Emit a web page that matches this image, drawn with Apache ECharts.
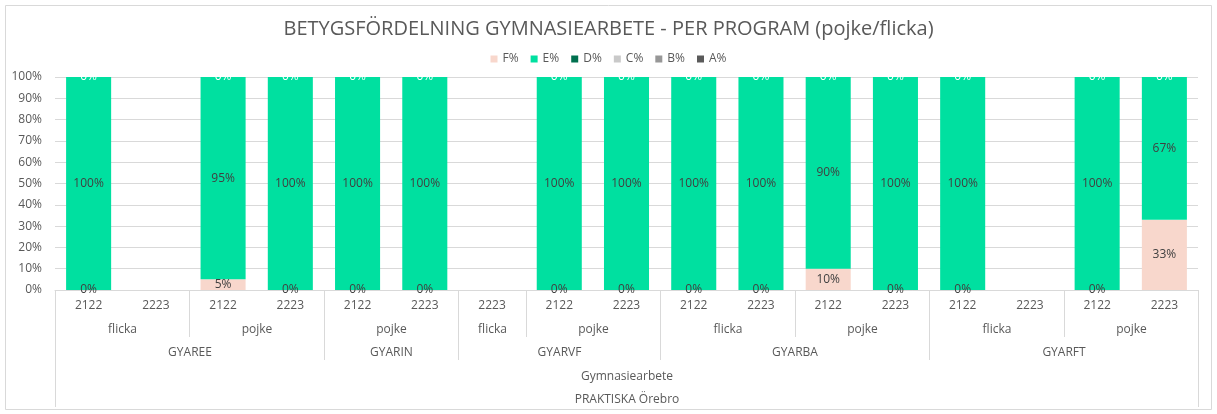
<!DOCTYPE html>
<html><head><meta charset="utf-8">
<script src="https://cdn.jsdelivr.net/npm/echarts@6/dist/echarts.min.js"></script>
<style>html,body{margin:0;padding:0;background:#fff}#c{width:1217px;height:414px}</style>
</head><body><div id="c"></div>
<script>
const years = ['2122','2223','2122','2223','2122','2223','2223','2122','2223','2122','2223','2122','2223','2122','2223','2122','2223'];
const genders = ['flicka','flicka','pojke','pojke','pojke','pojke','flicka','pojke','pojke','flicka','flicka','pojke','pojke','flicka','flicka','pojke','pojke'];
const programs = ['GYAREE','GYAREE','GYAREE','GYAREE','GYARIN','GYARIN','GYARVF','GYARVF','GYARVF','GYARBA','GYARBA','GYARBA','GYARBA','GYARFT','GYARFT','GYARFT','GYARFT'];
const courseLabel = 'Gymnasiearbete';
const schoolLabel = 'PRAKTISKA Örebro';
const seriesNames = ['F%','E%','D%','C%','B%','A%'];
const F = [0,null,5,0,0,0,null,0,0,0,0,10,0,0,null,0,33];
const E = [100,null,95,100,100,100,null,100,100,100,100,90,100,100,null,100,67];
const D = [0,null,0,0,0,0,null,0,0,0,0,0,0,0,null,0,0];
const C = [0,null,0,0,0,0,null,0,0,0,0,0,0,0,null,0,0];
const B = [0,null,0,0,0,0,null,0,0,0,0,0,0,0,null,0,0];
const A = [0,null,0,0,0,0,null,0,0,0,0,0,0,0,null,0,0];
const yTicks = [0,10,20,30,40,50,60,70,80,90,100];

const colors = ['#F8D7CC','#00E0A0','#00704F','#C9C9C9','#979797','#5A5A5A'];
const FONT = 'Open Sans';
const TXT = '#595959';

// build axis groups (consecutive runs)
const groups = [];
function addRuns(keyFn, labelFn, level){
  let s = 0;
  for (let i = 1; i <= years.length; i++){
    if (i === years.length || keyFn(i) !== keyFn(s)) {
      groups.push({start: s, end: i - 1, label: labelFn(s), level: level});
      s = i;
    }
  }
}
addRuns(i => programs[i] + '|' + genders[i], i => genders[i], 0);
addRuns(i => programs[i], i => programs[i], 1);
groups.push({start: 0, end: years.length - 1, label: courseLabel, level: 2});
groups.push({start: 0, end: years.length - 1, label: schoolLabel, level: 3});

const lineLen = [47, 70, 117, 117];
const textOff = [40, 63, 87, 110];

function renderGroup(params, api){
  const g = groups[params.dataIndex];
  const bw = api.size([1, 0])[0];
  const base = api.coord([g.start, 0]);
  const x0 = Math.round(base[0] - bw / 2) + 0.5;
  const x1 = Math.round(api.coord([g.end, 0])[0] + bw / 2) + 0.5;
  const y0 = base[1];
  const ls = {stroke: '#D9D9D9', lineWidth: 1};
  return {
    type: 'group',
    children: [
      {type: 'line', shape: {x1: x0, y1: y0, x2: x0, y2: y0 + lineLen[g.level]}, style: ls},
      {type: 'line', shape: {x1: x1, y1: y0, x2: x1, y2: y0 + lineLen[g.level]}, style: ls},
      {type: 'text', style: {x: (x0 + x1) / 2, y: y0 + textOff[g.level], text: g.label,
        fill: TXT, font: '12px "' + FONT + '"', textAlign: 'center', textVerticalAlign: 'middle'}}
    ]
  };
}

const dataArr = [F, E, D, C, B, A];
const barSeries = seriesNames.map((n, k) => ({
  name: n, type: 'bar', stack: 'total', barCategoryGap: '33%',
  data: dataArr[k],
  itemStyle: {color: colors[k]},
  label: {
    show: k <= 2, position: 'inside', formatter: p => p.value == null ? '' : p.value + '%',
    color: k === 2 ? '#FFFFFF' : '#404040', fontFamily: FONT, fontSize: 12
  }
}));

const chart = echarts.init(document.getElementById('c'), null, {renderer: 'canvas'});
chart.setOption({
  animation: false,
  backgroundColor: '#fff',
  color: colors,
  graphic: [{type: 'rect', shape: {x: 5.5, y: 5.5, width: 1206, height: 404}, style: {fill: 'none', stroke: '#D9D9D9', lineWidth: 1}, z: -10}],
  title: {text: 'BETYGSFÖRDELNING GYMNASIEARBETE - PER PROGRAM (pojke/flicka)', left: 'center', top: 14,
    textStyle: {color: TXT, fontFamily: FONT, fontSize: 20, fontWeight: 'normal'}},
  legend: {data: seriesNames, top: 48, left: 'center', itemWidth: 7, itemHeight: 7, itemGap: 12, icon: 'rect',
    textStyle: {color: TXT, fontFamily: FONT, fontSize: 12}},
  grid: {left: 55, right: 19, top: 77, bottom: 124, containLabel: false},
  xAxis: {type: 'category', data: years,
    axisLine: {lineStyle: {color: '#D9D9D9'}}, axisTick: {show: false},
    axisLabel: {color: TXT, fontFamily: FONT, fontSize: 12, margin: 10, interval: 0}},
  yAxis: {type: 'value', min: yTicks[0], max: yTicks[yTicks.length - 1], interval: yTicks[1] - yTicks[0],
    axisLabel: {formatter: '{value}%', color: TXT, fontFamily: FONT, fontSize: 12, margin: 13},
    axisLine: {show: false}, axisTick: {show: false},
    splitLine: {lineStyle: {color: '#D9D9D9'}}},
  series: barSeries.concat([{
    type: 'custom', renderItem: renderGroup, clip: false, silent: true,
    data: groups.map(g => [g.start, g.end]), encode: {x: 0, y: 1}, z: 5
  }])
});
</script></body></html>
